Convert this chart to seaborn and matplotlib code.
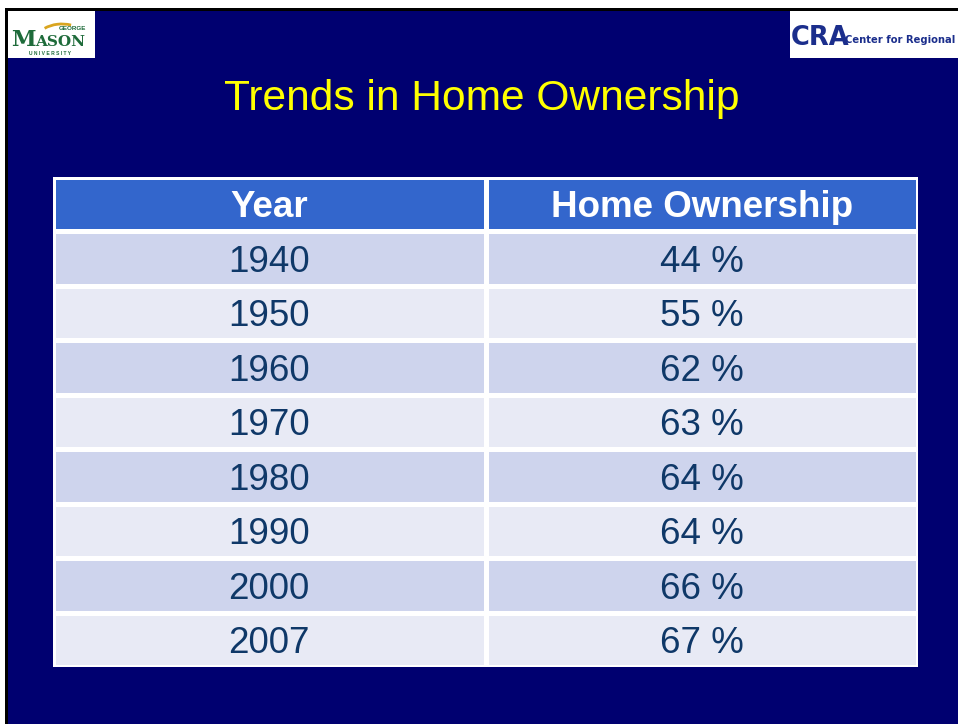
import numpy as np
import pandas as pd
import seaborn as sns
import matplotlib
matplotlib.use("Agg")
import matplotlib.pyplot as plt
from matplotlib.colors import ListedColormap
from matplotlib.patches import Rectangle

# ---- data ----
title = "Trends in Home Ownership"
columns = ["Year", "Home Ownership"]
years = ["1940", "1950", "1960", "1970", "1980", "1990", "2000", "2007"]
ownership = [44, 55, 62, 63, 64, 64, 66, 67]

NAVY = "#000070"
HEADER = "#3366CC"
ODD = "#CED4ED"
EVEN = "#E8EAF5"
TEXT = "#0F3868"

sns.set_theme(style="white")
plt.rcParams["font.family"] = ["Liberation Sans", "DejaVu Sans"]

fig = plt.figure(figsize=(9.58, 7.24), dpi=100)
fig.patch.set_facecolor("white")

W, H = 958, 724
def fx(x): return x / W
def fy(y): return 1 - y / H

# slide background with black top/left edge
fig.patches.append(Rectangle((fx(5), 0), 1 - fx(5), fy(8), transform=fig.transFigure,
                             facecolor="black", edgecolor="none", zorder=0))
fig.patches.append(Rectangle((fx(8), 0), 1 - fx(8), fy(11), transform=fig.transFigure,
                             facecolor=NAVY, edgecolor="none", zorder=0))

# logos (white boxes with text)
fig.patches.append(Rectangle((fx(8), fy(58)), fx(95) - fx(8), fy(11) - fy(58),
                             transform=fig.transFigure, facecolor="white", edgecolor="none", zorder=1))
fig.patches.append(Rectangle((fx(790), fy(58)), 1 - fx(790), fy(11) - fy(58),
                             transform=fig.transFigure, facecolor="white", edgecolor="none", zorder=1))
fig.text(fx(11), fy(46), "M", color="#1E6B3A", fontsize=16, fontweight="bold",
         family=["DejaVu Serif"], va="baseline", ha="left", zorder=2)
fig.text(fx(35), fy(46), "ASON", color="#1E6B3A", fontsize=11, fontweight="bold",
         family=["DejaVu Serif"], va="baseline", ha="left", zorder=2)
fig.text(fx(72), fy(30), "GEORGE", color="#1E6B3A", fontsize=4.5, fontweight="bold",
         va="baseline", ha="center", zorder=2)
fig.text(fx(50), fy(55), "U N I V E R S I T Y", color="#1E6B3A", fontsize=3.6, fontweight="bold",
         va="baseline", ha="center", zorder=2)
fig.add_artist(matplotlib.patches.Arc((fx(62), fy(44)), fx(56), fy(0) - fy(40), theta1=70, theta2=130,
                                      transform=fig.transFigure, color="#D9A520", lw=2, zorder=2))
fig.text(fx(791), fy(45), "CRA", color="#1B2E8C", fontsize=18.5, fontweight="bold",
         family=["DejaVu Sans Condensed", "DejaVu Sans"], va="baseline", ha="left", zorder=2)
fig.text(fx(845), fy(43), "Center for Regional Analysis", color="#1B2E8C", fontsize=7.2,
         fontweight="bold", family=["Liberation Sans Narrow", "DejaVu Sans Condensed", "DejaVu Sans"],
         va="baseline", ha="left", zorder=2, clip_on=False)

# title
fig.text(fx(482), fy(99), title, color="#FFFF00", fontsize=30.6, ha="center", va="center", zorder=2)

# ---- table via seaborn heatmap ----
rows = [columns] + [[y, f"{v} %"] for y, v in zip(years, ownership)]
codes = np.array([[0, 0]] + [[1 + (i % 2)] * 2 for i in range(len(years))])
df = pd.DataFrame(codes, columns=columns)

ax = fig.add_axes([fx(53), fy(667), fx(918) - fx(53), fy(177) - fy(667)])
ax.set_zorder(5)
sns.heatmap(df, ax=ax, cmap=ListedColormap([HEADER, ODD, EVEN]), vmin=-0.5, vmax=2.5,
            cbar=False, linewidths=2.4, linecolor="white", xticklabels=False, yticklabels=False)
ax.set_xlabel("")
ax.set_ylabel("")
for sp in ax.spines.values():
    sp.set_visible(False)

for r, row in enumerate(rows):
    for c, txt in enumerate(row):
        if r == 0:
            ax.text(c + 0.5, r + 0.56, txt, ha="center", va="center", color="white",
                    fontsize=26.5, fontweight="bold")
        else:
            ax.text(c + 0.5, r + 0.57, txt, ha="center", va="center", color=TEXT, fontsize=26.5)

fig.savefig("out.png", dpi=100, facecolor=fig.get_facecolor())
